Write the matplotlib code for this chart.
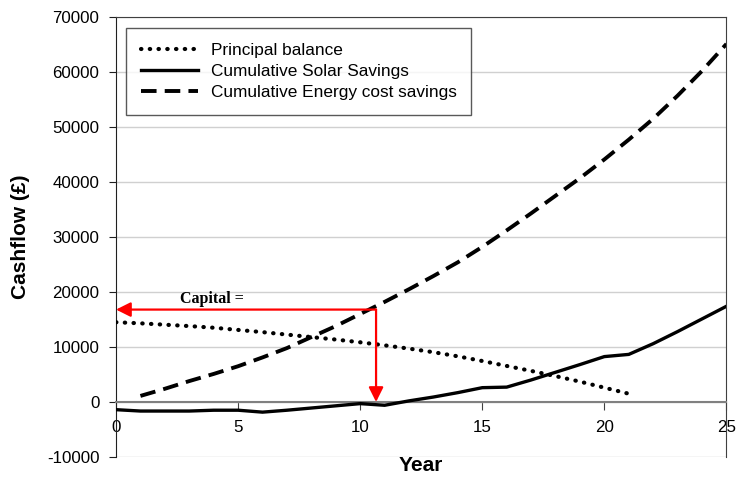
import matplotlib
matplotlib.use("Agg")
import matplotlib.pyplot as plt
from matplotlib.ticker import FuncFormatter

# data
years_principal = list(range(0, 22))
principal_balance = [14500, 14300, 14050, 13800, 13500, 13100, 12700, 12250,
                     11800, 11350, 10850, 10300, 9700, 9050, 8300, 7450,
                     6550, 5650, 4700, 3700, 2600, 1500]

years_solar = list(range(0, 26))
solar_savings = [-1400, -1650, -1650, -1650, -1500, -1500, -1850, -1500,
                 -1100, -700, -300, -600, 200, 900, 1700, 2600,
                 2700, 4000, 5400, 6800, 8250, 8650, 10600, 12800,
                 15100, 17400]

years_energy = list(range(1, 26))
energy_savings = [1100, 2400, 3800, 5100, 6500, 8100, 9800, 11800,
                  13800, 16000, 18200, 20500, 22900, 25400, 28200, 31200,
                  34300, 37500, 40700, 44100, 47700, 51500, 55700, 60200,
                  65100]

capital_year = 10.65
capital_value = 16800

plt.rcParams['font.family'] = ['Liberation Sans', 'DejaVu Sans']

fig = plt.figure(figsize=(7.39, 4.79), dpi=100)
ax = fig.add_axes([0.157, 0.046, 0.826, 0.9185])

ax.plot(years_principal, principal_balance, color='black', lw=3.0,
        linestyle=(0, (0.1, 2.0)), dash_capstyle='round',
        label='Principal balance', zorder=3)
ax.plot(years_solar, solar_savings, color='black', lw=2.4,
        label='Cumulative Solar Savings', zorder=3)
ax.plot(years_energy, energy_savings, color='black', lw=2.8,
        linestyle=(0, (4, 2.1)), label='Cumulative Energy cost savings',
        zorder=3)

# capital arrows
arrow = dict(arrowstyle='-|>', color='red', lw=1.6, mutation_scale=22,
             shrinkA=0, shrinkB=0)
ax.annotate('', xy=(0, capital_value), xytext=(capital_year, capital_value),
            arrowprops=arrow, zorder=4)
ax.annotate('', xy=(capital_year, 0), xytext=(capital_year, capital_value),
            arrowprops=arrow, zorder=4)
ax.text(2.6, capital_value + 400, 'Capital =', family='Liberation Serif',
        fontweight='bold', fontsize=11.5, va='bottom', ha='left')

ax.set_xlim(0, 25)
ax.set_ylim(-10000, 70000)
ax.set_xticks(range(0, 26, 5))
ax.set_yticks(range(-10000, 70001, 10000))
ax.yaxis.set_major_formatter(FuncFormatter(lambda v, p: '%d' % v))

ax.grid(axis='y', color='#d0d0d0', lw=1.0)
ax.set_axisbelow(True)

ax.spines['bottom'].set_position(('data', 0))
ax.spines['bottom'].set_color('#808080')
ax.spines['bottom'].set_linewidth(1.5)
ax.spines['top'].set_color('#404040')
ax.spines['right'].set_color('#404040')
ax.spines['left'].set_color('#202020')
ax.tick_params(axis='x', direction='out', length=6, color='#404040',
               labelsize=12.2, pad=7)
ax.tick_params(axis='y', direction='out', length=5, color='#202020',
               labelsize=12.2, pad=7)

ax.set_xlabel('Year', fontsize=15, fontweight='bold')
ax.xaxis.set_label_coords(0.5, 0.003)
ax.set_ylabel('Cashflow (£)', fontsize=15, fontweight='bold')
ax.yaxis.set_label_coords(-0.141, 0.5)

leg = ax.legend(loc='upper left', bbox_to_anchor=(0.016, 0.976),
                fontsize=12.4, frameon=True, fancybox=False,
                handlelength=3.3, handletextpad=0.75, labelspacing=0.36,
                borderpad=0.87, borderaxespad=0)
leg.get_frame().set_edgecolor('#303030')
leg.get_frame().set_linewidth(1.0)

fig.savefig('out.png', dpi=100)
